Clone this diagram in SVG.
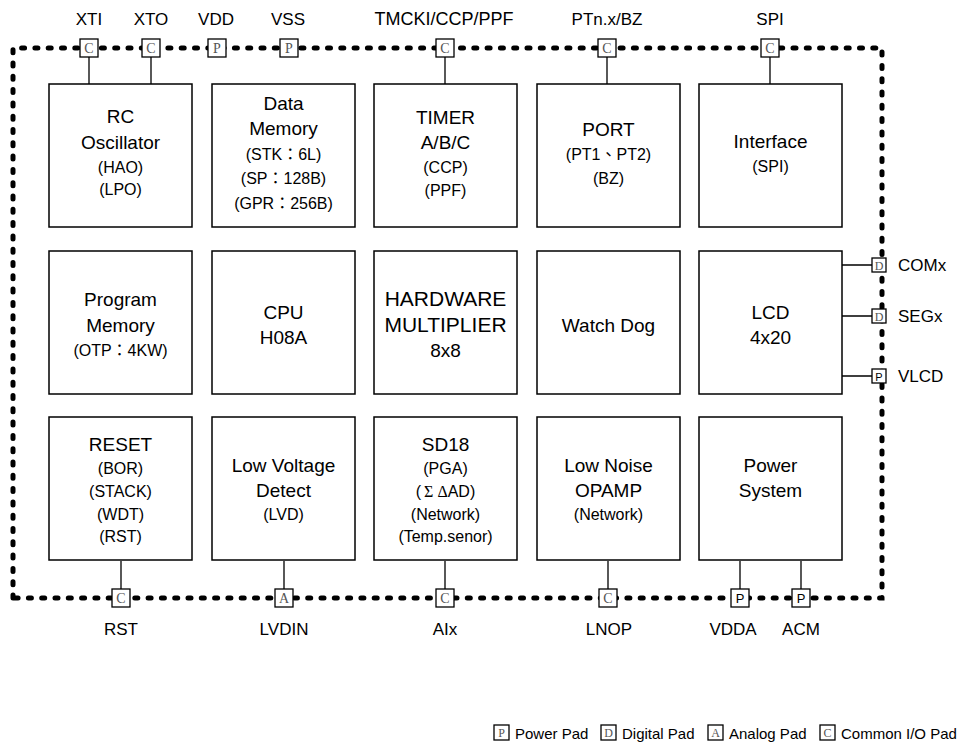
<svg xmlns="http://www.w3.org/2000/svg" width="962" height="747" viewBox="0 0 962 747">
<style>
.bg{fill:#fff}
.box{fill:#fff;stroke:#000;stroke-width:1.5}
.t{font-family:"Liberation Sans",Arial,"Noto Sans CJK TC",sans-serif;font-size:19px;text-anchor:middle;fill:#000}
.s{font-size:16px}
.big{font-size:21px}
.lbl{font-family:"Liberation Sans",Arial,sans-serif;font-size:17px;fill:#000;text-anchor:middle}
.lblL{font-family:"Liberation Sans",Arial,sans-serif;font-size:17px;fill:#000}
.pad{fill:#fff;stroke:#000;stroke-width:1.3}
.pl{font-family:"Liberation Serif","Times New Roman",serif;font-size:14px;fill:#555;text-anchor:middle}
.ps{font-family:"Liberation Sans",Arial,sans-serif;font-size:13px;fill:#000;text-anchor:middle}
.border{fill:none;stroke:#000;stroke-width:5;stroke-dasharray:3 10.3;stroke-linecap:round}
.wire{stroke:#000;stroke-width:1.3;fill:none}
.gr{font-family:"Liberation Serif",serif}
.lg{font-family:"Liberation Sans",Arial,sans-serif;font-size:15px;fill:#000}
</style>
<rect class="bg" x="0" y="0" width="962" height="747"/>

<path class="border" d="M13,598 L13,48 L882,48 L882,598 Z"/>

<g id="connectors">
<path class="wire" d="M89,57 V84 M151,57 V84 M445,57 V84 M607,57 V84 M770,57 V84"/>
<path class="wire" d="M121,561 V589 M284,561 V589 M445,561 V589 M608,561 V589 M740,561 V589 M801,561 V589"/>
<path class="wire" d="M842,265 H872 M842,316 H872 M842,376 H872"/>
</g>

<g id="rc"><rect class="box" x="49" y="84" width="143" height="143"/>
<text class="t" x="120.5" y="123">RC</text><text class="t" x="120.5" y="149">Oscillator</text>
<text class="t s" x="120.5" y="173">(HAO)</text><text class="t s" x="120.5" y="195">(LPO)</text></g>

<g id="datamem"><rect class="box" x="212" y="84" width="143" height="143"/>
<text class="t" x="283.5" y="110">Data</text><text class="t" x="283.5" y="135">Memory</text>
<text class="t s" x="283.5" y="160">(STK：6L)</text><text class="t s" x="283.5" y="184">(SP：128B)</text><text class="t s" x="283.5" y="209">(GPR：256B)</text></g>

<g id="timer"><rect class="box" x="374" y="84" width="143" height="143"/>
<text class="t" x="445.5" y="124">TIMER</text><text class="t" x="445.5" y="149">A/B/C</text>
<text class="t s" x="445.5" y="173">(CCP)</text><text class="t s" x="445.5" y="196">(PPF)</text></g>

<g id="port"><rect class="box" x="537" y="84" width="143" height="143"/>
<text class="t" x="608.5" y="136">PORT</text>
<text class="t s" x="608.5" y="160">(PT1、PT2)</text><text class="t s" x="608.5" y="184">(BZ)</text></g>

<g id="interface"><rect class="box" x="699" y="84" width="143" height="143"/>
<text class="t" x="770.5" y="148">Interface</text><text class="t s" x="770.5" y="172">(SPI)</text></g>

<g id="progmem"><rect class="box" x="49" y="251" width="143" height="143"/>
<text class="t" x="120.5" y="306">Program</text><text class="t" x="120.5" y="332">Memory</text>
<text class="t s" x="120.5" y="356">(OTP：4KW)</text></g>

<g id="cpu"><rect class="box" x="212" y="251" width="143" height="143"/>
<text class="t" x="283.5" y="319">CPU</text><text class="t" x="283.5" y="344">H08A</text></g>

<g id="mult"><rect class="box" x="374" y="251" width="143" height="143"/>
<text class="t big" x="445.5" y="306">HARDWARE</text><text class="t big" x="445.5" y="332">MULTIPLIER</text><text class="t" x="445.5" y="357">8x8</text></g>

<g id="wdt"><rect class="box" x="537" y="251" width="143" height="143"/>
<text class="t" x="608.5" y="332">Watch Dog</text></g>

<g id="lcd"><rect class="box" x="699" y="251" width="143" height="143"/>
<text class="t" x="770.5" y="319">LCD</text><text class="t" x="770.5" y="344">4x20</text></g>

<g id="reset"><rect class="box" x="49" y="417" width="143" height="143"/>
<text class="t" x="120.5" y="451">RESET</text>
<text class="t s" x="120.5" y="474">(BOR)</text><text class="t s" x="120.5" y="497">(STACK)</text><text class="t s" x="120.5" y="520">(WDT)</text><text class="t s" x="120.5" y="542">(RST)</text></g>

<g id="lvd"><rect class="box" x="212" y="417" width="143" height="143"/>
<text class="t" x="283.5" y="472">Low Voltage</text><text class="t" x="283.5" y="497">Detect</text>
<text class="t s" x="283.5" y="520">(LVD)</text></g>

<g id="sd18"><rect class="box" x="374" y="417" width="143" height="143"/>
<text class="t" x="445.5" y="451">SD18</text>
<text class="t s" x="445.5" y="474">(PGA)</text>
<text class="t s" x="445.5" y="497">(<tspan class="gr" dx="3">Σ</tspan><tspan class="gr" dx="4">Δ</tspan>AD)</text>
<text class="t s" x="445.5" y="520">(Network)</text><text class="t s" x="445.5" y="542">(Temp.senor)</text></g>

<g id="lnop"><rect class="box" x="537" y="417" width="143" height="143"/>
<text class="t" x="608.5" y="472">Low Noise</text><text class="t" x="608.5" y="497">OPAMP</text>
<text class="t s" x="608.5" y="520">(Network)</text></g>

<g id="power"><rect class="box" x="699" y="417" width="143" height="143"/>
<text class="t" x="770.5" y="472">Power</text><text class="t" x="770.5" y="497">System</text></g>

<g id="pads-top">
<rect class="pad" x="80" y="39" width="18" height="18"/><text class="pl" x="89" y="53">C</text>
<rect class="pad" x="142" y="39" width="18" height="18"/><text class="pl" x="151" y="53">C</text>
<rect class="pad" x="208" y="39" width="18" height="18"/><text class="pl" x="217" y="53">P</text>
<rect class="pad" x="280" y="39" width="18" height="18"/><text class="pl" x="289" y="53">P</text>
<rect class="pad" x="436" y="39" width="18" height="18"/><text class="pl" x="445" y="53">C</text>
<rect class="pad" x="598" y="39" width="18" height="18"/><text class="pl" x="607" y="53">C</text>
<rect class="pad" x="761" y="39" width="18" height="18"/><text class="pl" x="770" y="53">C</text>
<text class="lbl" x="89" y="25">XTI</text><text class="lbl" x="151" y="25">XTO</text>
<text class="lbl" x="216" y="25">VDD</text><text class="lbl" x="288" y="25">VSS</text>
<text class="lbl" x="444" y="25" style="font-size:18px">TMCKI/CCP/PPF</text><text class="lbl" x="607" y="25">PTn.x/BZ</text>
<text class="lbl" x="770" y="25">SPI</text>
</g>

<g id="pads-bottom">
<rect class="pad" x="112" y="589" width="18" height="18"/><text class="pl" x="121" y="603">C</text>
<rect class="pad" x="275" y="589" width="18" height="18"/><text class="pl" x="284" y="603">A</text>
<rect class="pad" x="436" y="589" width="18" height="18"/><text class="pl" x="445" y="603">C</text>
<rect class="pad" x="599" y="589" width="18" height="18"/><text class="pl" x="608" y="603">C</text>
<rect class="pad" x="731" y="589" width="18" height="18"/><text class="ps" x="740" y="603">P</text>
<rect class="pad" x="792" y="589" width="18" height="18"/><text class="ps" x="801" y="603">P</text>
<text class="lbl" x="121" y="635">RST</text><text class="lbl" x="284" y="635">LVDIN</text>
<text class="lbl" x="445" y="635">AIx</text><text class="lbl" x="609" y="635">LNOP</text>
<text class="lbl" x="733" y="635">VDDA</text><text class="lbl" x="801" y="635">ACM</text>
</g>

<g id="pads-right">
<rect class="pad" x="872" y="258" width="14" height="14"/><text class="pl" x="879" y="270" style="font-size:12px">D</text>
<rect class="pad" x="872" y="309" width="14" height="14"/><text class="pl" x="879" y="321" style="font-size:12px">D</text>
<rect class="pad" x="872" y="369" width="14" height="14"/><text class="ps" x="879" y="381" style="font-size:11px">P</text>
<text class="lblL" x="898" y="271">COMx</text>
<text class="lblL" x="898" y="322">SEGx</text>
<text class="lblL" x="898" y="382">VLCD</text>
</g>

<g id="legend">
<rect class="pad" x="494" y="725" width="15" height="15"/><text class="pl" x="501.5" y="737" style="font-size:12px">P</text>
<text class="lg" x="515" y="739">Power Pad</text>
<rect class="pad" x="601" y="725" width="15" height="15"/><text class="pl" x="608.5" y="737" style="font-size:12px">D</text>
<text class="lg" x="622" y="739">Digital Pad</text>
<rect class="pad" x="708" y="725" width="15" height="15"/><text class="pl" x="715.5" y="737" style="font-size:12px">A</text>
<text class="lg" x="729" y="739">Analog Pad</text>
<rect class="pad" x="820" y="725" width="15" height="15"/><text class="pl" x="827.5" y="737" style="font-size:12px">C</text>
<text class="lg" x="841" y="739">Common I/O Pad</text>
</g>
</svg>
